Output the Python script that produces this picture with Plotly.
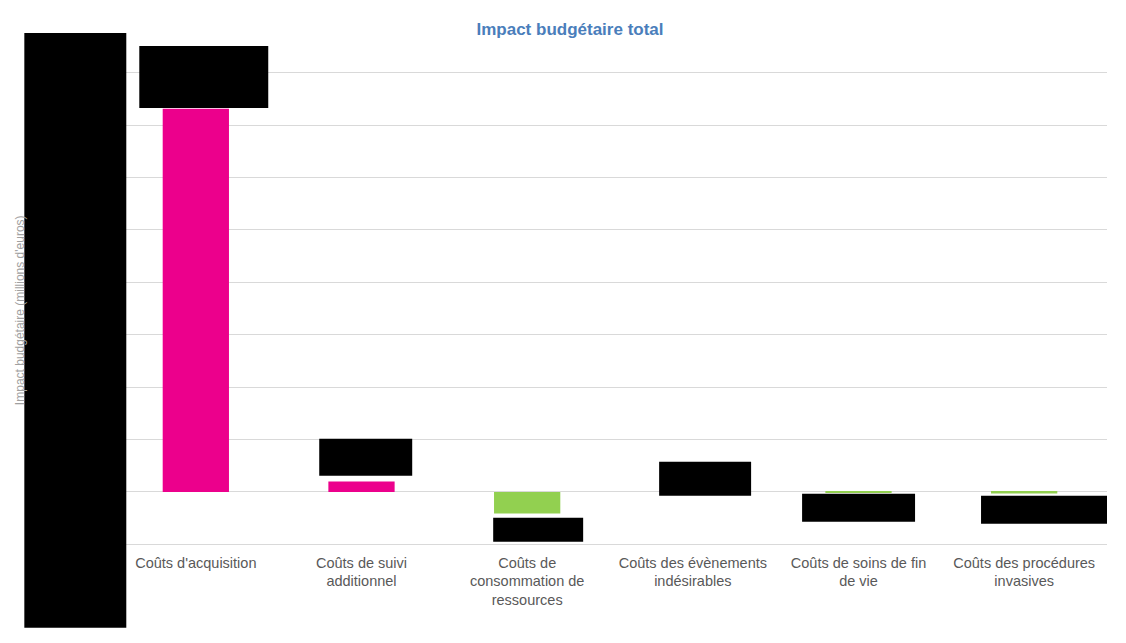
import plotly.graph_objects as go

# ---- data ----
categories = [
    "Coûts d'acquisition",
    "Coûts de suivi<br>additionnel",
    "Coûts de<br>consommation de<br>ressources",
    "Coûts des évènements<br>indésirables",
    "Coûts de soins de fin<br>de vie",
    "Coûts des procédures<br>invasives",
]
values = [7.31, 0.20, -0.41, 0.02, -0.02, -0.03]
y_range = [-1.05, 8.05]
y_dtick = 1

POS_COLOR = "#EC008C"
NEG_COLOR = "#92D050"
colors = [POS_COLOR if v >= 0 else NEG_COLOR for v in values]

# the html page body has an 8px margin; work in reference pixels and shift
OFF = 8
W, H = 1126 - OFF, 643 - OFF
STEP = 52.44
top_px = 72.7 - 0.05 * STEP - OFF
bot_px = 544.7 + 0.05 * STEP - OFF
ML, MR = 112.7 - OFF, 1126 - 1107
MT, MB = top_px, H - bot_px
PW, PH = W - ML - MR, H - MT - MB


def px_x(x):
    return (x - OFF - ML) / PW


def px_y(y):
    return 1 - (y - OFF - MT) / PH


fig = go.Figure(
    go.Bar(
        x=categories,
        y=values,
        marker=dict(color=colors, line=dict(width=0)),
        hoverinfo="x+y",
    )
)

# redaction boxes present in the reference image (pixel rectangles)
redactions = [
    (24, 33, 126, 628),
    (139, 46, 268, 108),
    (319, 439, 412, 476),
    (493, 518, 583, 542),
    (659, 462, 751, 496),
    (802, 494, 915, 522),
    (981, 496, 1107, 524),
]
shapes = []
annotations = [
    dict(text="Impact budgétaire (millions d'euros)", xref="paper", yref="paper",
         x=px_x(19), y=px_y(310), textangle=-90, showarrow=False,
         font=dict(family="Liberation Sans, Arial", size=12, color="#A0A0A0"),
         xanchor="center", yanchor="middle"),
]

for (x0, y0, x1, y1) in redactions:
    shapes.append(dict(type="rect", xref="paper", yref="paper",
                       x0=px_x(x0), x1=px_x(x1), y0=px_y(y1), y1=px_y(y0),
                       fillcolor="black", line=dict(width=0), layer="above"))

fig.update_layout(
    width=W, height=H, autosize=False,
    margin=dict(l=ML, r=MR, t=MT, b=MB, pad=0),
    paper_bgcolor="white", plot_bgcolor="white",
    bargap=0.6,
    showlegend=False,
    title=dict(text="<b>Impact budgétaire total</b>",
               x=(570 - OFF) / W, xref="container", xanchor="center",
               y=1 - (29 - OFF) / H, yref="container", yanchor="middle",
               font=dict(family="Liberation Sans Narrow, Arial Narrow, Liberation Sans, Arial",
                         size=17, color="#4A7EBB")),
    xaxis=dict(showgrid=False, showline=False, ticks="", zeroline=False,
               tickfont=dict(family="Liberation Sans, Arial", size=14.5, color="#595959"),
               tickangle=0, ticklabelstandoff=5),
    yaxis=dict(range=y_range, dtick=y_dtick, showgrid=True, gridcolor="#D9D9D9",
               gridwidth=1.3, zeroline=True, zerolinecolor="#D9D9D9", zerolinewidth=1.3,
               showticklabels=False, ticks="", showline=False),
    shapes=shapes,
    annotations=annotations,
)

fig.write_html("out.html")
